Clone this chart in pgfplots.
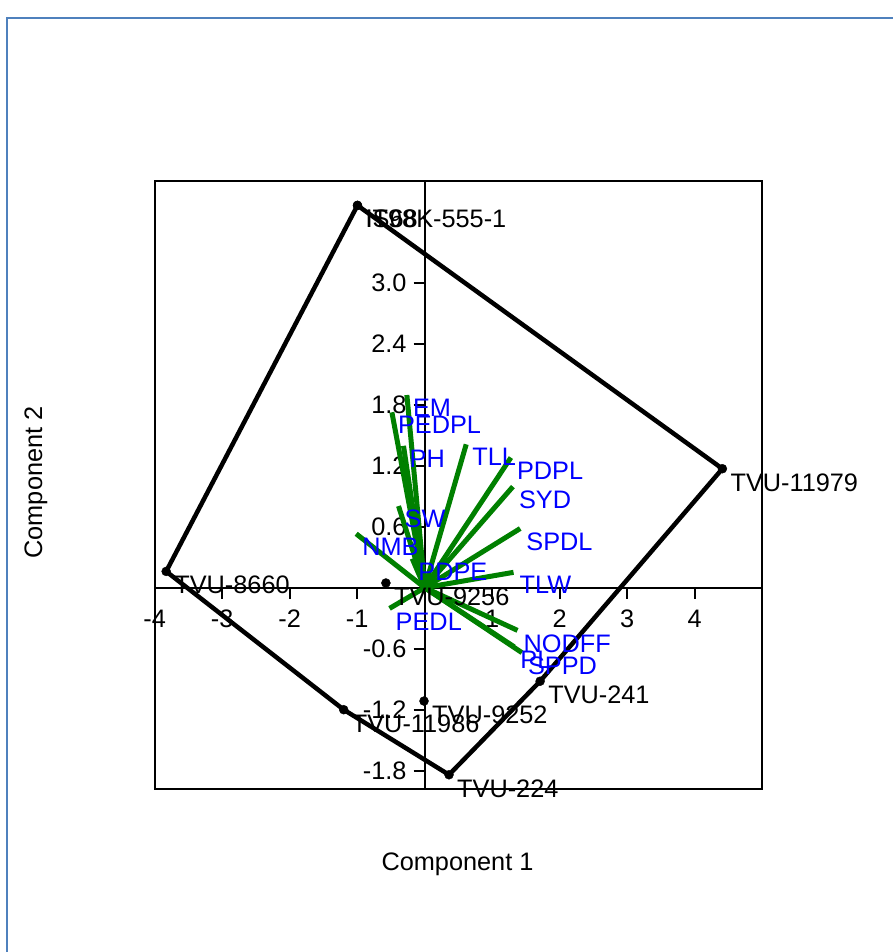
\documentclass[border=0pt]{standalone}
\usepackage{fontspec}
\setmainfont{Liberation Sans}
\usepackage{pgfplots}
\pgfplotsset{compat=1.18}
\usepackage{pgfplotstable}
\definecolor{vgreen}{RGB}{0,128,0}
\definecolor{lblue}{RGB}{0,0,255}
\definecolor{frameblue}{RGB}{79,129,189}

\pgfplotstableread{
x y label
-0.486 1.725 PEDPL
-0.264 1.895 EM
-0.314 1.395 PH
0.615 1.41 TLL
1.277 1.28 PDPL
1.307 0.994 SYD
1.415 0.582 SPDL
1.316 0.151 TLW
-0.388 0.803 SW
-1.015 0.53 NMB
-0.185 0.286 PDPE
-0.521 -0.204 PEDL
1.375 -0.42 NODFF
1.326 -0.582 PL
1.44 -0.639 SPPD
}\vectors

\pgfplotstableread{
x y label
-0.996 3.76 IT98K-555-1
-0.996 3.76 IS68
4.41 1.17 TVU-11979
-3.83 0.16 TVU-8660
-0.575 0.046 TVU-9256
1.71 -0.92 TVU-241
-0.01 -1.115 TVU-9252
-1.20 -1.20 TVU-11986
0.36 -1.84 TVU-224
}\genos

\begin{document}
\fontsize{25.3pt}{30pt}\selectfont
\begin{tikzpicture}
\path[use as bounding box] (0pt,0pt) rectangle (893pt,952pt);
\draw[frameblue, line width=2.5pt] (7pt,0pt) -- (7pt,934pt) -- (893pt,934pt);
\node at (457.5pt,88pt) {Component 1};
\node[rotate=90] at (36pt,469.5pt) {Component 2};
\begin{axis}[
  at={(154.7pt,163pt)}, anchor=south west,
  scale only axis, width=607.5pt, height=608pt,
  xmin=-4, xmax=5, ymin=-1.98, ymax=4,
  axis lines=middle,
  axis line style={-, line width=2pt, black},
  clip=false,
  xtick={-4,-3,-2,-1,1,2,3,4},
  xticklabels={-4,-3,-2,-1,1,2,3,4},
  ytick={-1.8,-1.2,-0.6,0.6,1.2,1.8,2.4,3.0},
  yticklabels={-1.8,-1.2,-0.6,0.6,1.2,1.8,2.4,3.0},
  tick align=outside,
  major tick length=11pt,
  tick style={black, line width=2pt},
  xticklabel style={anchor=north, inner sep=0pt, yshift=-11pt},
  yticklabel style={anchor=east, inner sep=0pt, xshift=-7pt},
]
\draw[black, line width=2pt] (rel axis cs:0,0) rectangle (rel axis cs:1,1);
\addplot[black, line width=4.5pt, line join=round, mark=none] coordinates {
  (-3.83,0.16) (-0.996,3.76) (4.41,1.17) (1.71,-0.92) (0.36,-1.84) (-1.20,-1.20) (-3.83,0.16)
};
\addplot[vgreen, line width=5pt, mark=none, -, quiver={u=\thisrow{x}, v=\thisrow{y}}]
  table[x expr=0, y expr=0] {\vectors};
\addplot[only marks, mark=*, mark size=4.5pt, black,
  nodes near coords, point meta=explicit symbolic,
  nodes near coords style={anchor=north west, inner sep=0pt, xshift=8pt, yshift=-4.5pt, text=black}]
  table[x=x, y=y, meta=label] {\genos};
\addplot[draw=none, mark=none,
  nodes near coords, point meta=explicit symbolic,
  nodes near coords style={anchor=north west, inner sep=0pt, xshift=6pt, yshift=-4pt, text=lblue}]
  table[x=x, y=y, meta=label] {\vectors};
\end{axis}
\end{tikzpicture}
\end{document}
